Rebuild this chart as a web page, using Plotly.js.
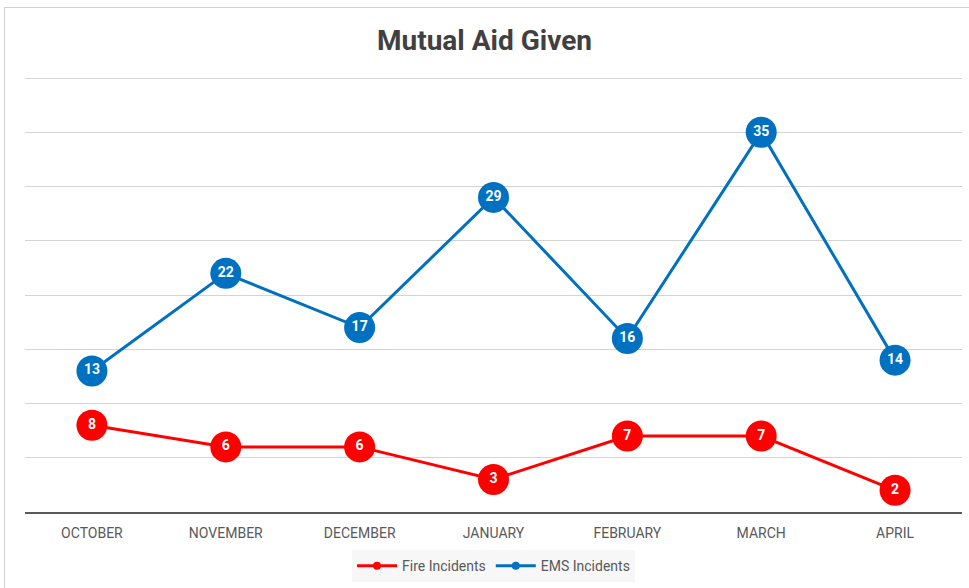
<!DOCTYPE html>
<html>
<head>
<meta charset="utf-8">
<script src="https://cdn.plot.ly/plotly-3.0.1.min.js"></script>
<style>
  html, body { margin: 0; padding: 0; background: #fff; }
  #wrap { position: relative; width: 969px; height: 588px; overflow: hidden; }
  #frame { position: absolute; left: 4px; top: 7px; width: 2000px; height: 2000px; border: 1px solid #d0d0d0; pointer-events: none; }
  #chart { position: absolute; left: 0; top: 0; width: 969px; height: 588px; }
</style>
</head>
<body>
<div id="wrap">
  <div id="chart"></div>
  <div id="frame"></div>
</div>
<script>
const months = ["OCTOBER", "NOVEMBER", "DECEMBER", "JANUARY", "FEBRUARY", "MARCH", "APRIL"];
const fireIncidents = [8, 6, 6, 3, 7, 7, 2];
const emsIncidents = [13, 22, 17, 29, 16, 35, 14];

const fireColor = "#ff0000";
const emsColor = "#0070c0";

function dataTrace(name, vals, color) {
  return {
    type: "scatter",
    mode: "lines+markers+text",
    name: name,
    x: months,
    y: vals,
    text: vals.map(String),
    textposition: "middle center",
    textfont: { family: "Roboto, Arial, sans-serif", size: 14, color: "#ffffff", weight: "bold" },
    line: { color: color, width: 3 },
    marker: { color: color, size: 31 },
    showlegend: false,
    hoverinfo: "x+y+name",
    cliponaxis: false
  };
}
function legendTrace(name, color) {
  return {
    type: "scatter",
    mode: "lines+markers",
    name: name,
    x: [null],
    y: [null],
    line: { color: color, width: 3 },
    marker: { color: color, size: 8 },
    showlegend: true
  };
}

const traces = [
  dataTrace("EMS Incidents", emsIncidents, emsColor),
  dataTrace("Fire Incidents", fireIncidents, fireColor),
  legendTrace("Fire Incidents", fireColor),
  legendTrace("EMS Incidents", emsColor)
];

const layout = {
  width: 969,
  height: 588,
  paper_bgcolor: "rgba(0,0,0,0)",
  plot_bgcolor: "rgba(0,0,0,0)",
  margin: { l: 25, r: 7, t: 77, b: 75 },
  title: {
    text: "<b>Mutual Aid Given</b>",
    x: 0.5,
    xanchor: "center",
    y: 1 - 40 / 588,
    yanchor: "middle",
    font: { family: "Roboto, Arial, sans-serif", size: 28, color: "#404040" }
  },
  xaxis: {
    type: "category",
    range: [-0.5, 6.5],
    showgrid: false,
    showline: true,
    linecolor: "#595959",
    linewidth: 2,
    ticks: "",
    ticklabelstandoff: 7,
    tickfont: { family: "Roboto, Arial, sans-serif", size: 14, color: "#595959" },
    zeroline: false,
    fixedrange: true
  },
  yaxis: {
    range: [0, 40.1],
    tick0: 0,
    dtick: 5,
    showticklabels: false,
    showgrid: true,
    gridcolor: "#d4d4d4",
    gridwidth: 1,
    zeroline: false,
    showline: false,
    fixedrange: true
  },
  showlegend: true,
  legend: {
    orientation: "h",
    x: 0.5,
    xanchor: "center",
    y: -0.085,
    yanchor: "top",
    bgcolor: "#f7f7f7",
    font: { family: "Roboto, Arial, sans-serif", size: 14, color: "#595959" },
    itemwidth: 40,
    traceorder: "normal"
  }
};

Plotly.newPlot("chart", traces, layout, { displayModeBar: false, staticPlot: true });
</script>
</body>
</html>
